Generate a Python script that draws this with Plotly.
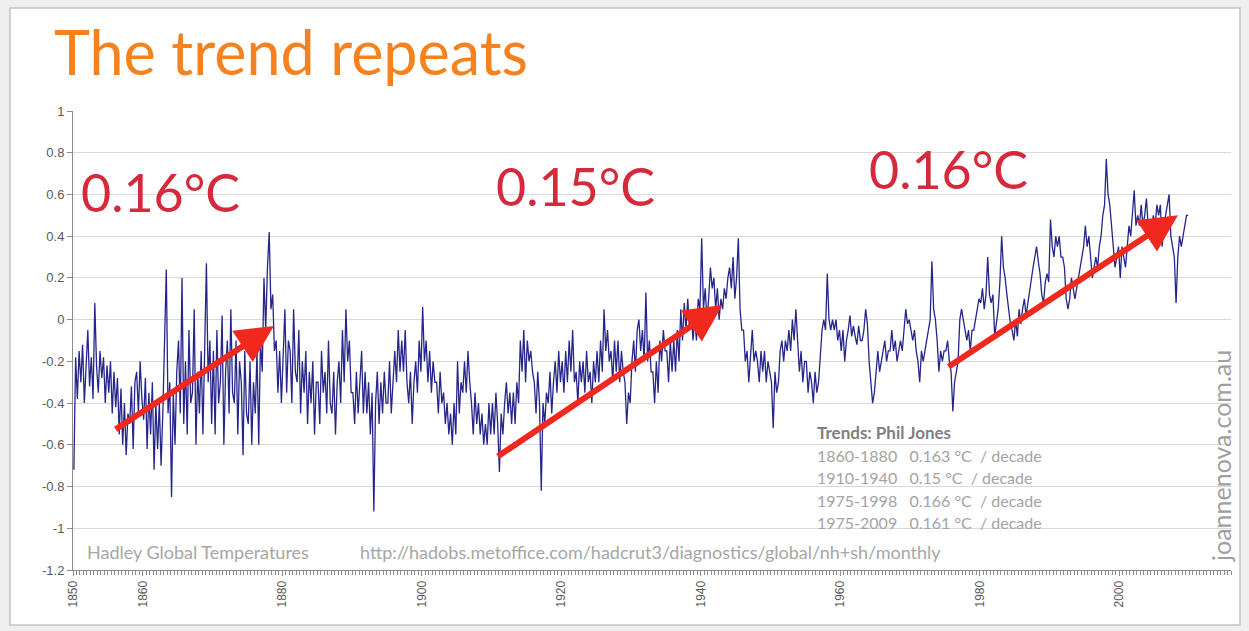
import plotly.graph_objects as go

# ---------------- data (quarterly readings) ----------------
t1850s = [-0.72, -0.18, -0.38, -0.15, -0.30, -0.12, -0.40, -0.20, -0.05, -0.32, -0.18, -0.38,
          0.08, -0.22, -0.35, -0.15, -0.28, -0.18, -0.40, -0.22, -0.35, -0.20, -0.45, -0.25,
          -0.42, -0.28, -0.55, -0.33, -0.60, -0.40, -0.65, -0.45, -0.50, -0.32, -0.62, -0.30,
          -0.25, -0.45, -0.20, -0.38]
t1860s = [-0.48, -0.28, -0.62, -0.35, -0.55, -0.30, -0.72, -0.40, -0.62, -0.40, -0.70, -0.45,
          -0.15, 0.24, -0.45, -0.30, -0.85, -0.35, -0.60, -0.25, -0.10, -0.45, 0.20, -0.50,
          -0.20, -0.55, -0.05, -0.40, -0.35, 0.05, -0.60, -0.25, -0.45, -0.15, -0.55, -0.20,
          0.27, -0.30, -0.10, -0.50]
t1870s = [-0.15, -0.55, -0.05, -0.40, -0.30, 0.02, -0.60, -0.25, -0.10, -0.45, 0.05, -0.35,
          -0.40, -0.10, -0.55, -0.20, -0.30, -0.65, -0.15, -0.45, -0.50, -0.20, -0.60, -0.30,
          -0.45, -0.15, -0.60, -0.10, -0.25, 0.20, -0.05, 0.25, 0.42, 0.05, 0.12, -0.15,
          -0.10, -0.35, -0.15, -0.40]
t1880s = [-0.20, 0.05, -0.35, -0.10, -0.15, -0.40, 0.05, -0.25, -0.30, -0.05, -0.45, -0.20,
          -0.35, -0.15, -0.50, -0.25, -0.40, -0.20, -0.55, -0.30, -0.30, -0.50, -0.15, -0.35,
          -0.25, -0.45, -0.10, -0.40, -0.45, -0.25, -0.55, -0.30, -0.20, -0.40, -0.05, -0.30,
          0.05, -0.20, -0.10, -0.35]
t1890s = [-0.35, -0.50, -0.25, -0.45, -0.30, -0.15, -0.45, -0.25, -0.45, -0.30, -0.55, -0.35,
          -0.92, -0.40, -0.25, -0.50, -0.30, -0.45, -0.25, -0.40, -0.40, -0.20, -0.45, -0.30,
          -0.15, -0.30, -0.05, -0.25, -0.10, -0.25, -0.05, -0.30, -0.40, -0.25, -0.50, -0.30,
          -0.20, -0.35, -0.10, -0.25]
t1900s = [0.06, -0.20, -0.10, -0.30, -0.15, -0.35, -0.20, -0.30, -0.30, -0.45, -0.25, -0.40,
          -0.35, -0.50, -0.40, -0.55, -0.45, -0.60, -0.40, -0.55, -0.20, -0.45, -0.30, -0.35,
          -0.20, -0.35, -0.15, -0.30, -0.40, -0.55, -0.35, -0.50, -0.40, -0.55, -0.45, -0.60,
          -0.50, -0.60, -0.40, -0.55]
t1910s = [-0.40, -0.55, -0.35, -0.50, -0.73, -0.45, -0.55, -0.40, -0.30, -0.45, -0.35, -0.50,
          -0.35, -0.50, -0.30, -0.40, -0.10, -0.25, -0.05, -0.30, -0.10, -0.20, -0.15, -0.25,
          -0.30, -0.45, -0.25, -0.40, -0.82, -0.40, -0.50, -0.35, -0.40, -0.25, -0.45, -0.30,
          -0.20, -0.35, -0.15, -0.30]
t1920s = [-0.20, -0.35, -0.15, -0.30, -0.10, -0.25, -0.05, -0.30, -0.25, -0.40, -0.20, -0.30,
          -0.20, -0.35, -0.15, -0.30, -0.25, -0.40, -0.20, -0.30, -0.15, -0.30, -0.10, -0.25,
          0.05, -0.15, -0.05, -0.20, -0.15, -0.30, -0.10, -0.25, -0.10, -0.30, -0.15, -0.25,
          -0.30, -0.50, -0.35, -0.40]
t1930s = [-0.20, -0.10, -0.25, -0.05, 0.00, -0.15, -0.05, -0.20, 0.13, -0.20, -0.10, -0.25,
          -0.25, -0.40, -0.20, -0.35, -0.10, -0.20, -0.05, -0.15, -0.15, -0.30, -0.10, -0.25,
          -0.10, -0.25, -0.05, -0.20, 0.05, -0.10, 0.08, -0.05, 0.10, -0.05, 0.05, -0.10,
          0.00, -0.10, 0.10, 0.05]
t1940s = [0.39, 0.05, 0.15, 0.00, 0.10, 0.25, 0.15, 0.20, 0.05, 0.15, 0.00, 0.10,
          0.05, 0.15, 0.10, 0.20, 0.25, 0.15, 0.30, 0.10, 0.20, 0.39, 0.05, -0.05,
          -0.05, -0.20, -0.15, -0.30, -0.15, -0.05, -0.20, -0.15, -0.20, -0.30, -0.15, -0.25,
          -0.15, -0.30, -0.20, -0.25]
t1950s = [-0.30, -0.52, -0.25, -0.35, -0.30, -0.15, -0.10, -0.20, -0.10, -0.15, -0.05, -0.15,
          0.00, -0.10, 0.05, -0.10, -0.25, -0.15, -0.30, -0.20, -0.20, -0.35, -0.25, -0.30,
          -0.40, -0.25, -0.35, -0.30, -0.15, -0.05, 0.00, -0.05, 0.22, 0.00, -0.05, 0.00,
          -0.05, 0.00, -0.10, -0.05]
t1960s = [-0.15, -0.05, -0.20, -0.10, -0.05, 0.02, -0.08, -0.03, -0.08, -0.12, -0.03, -0.10,
          -0.10, -0.05, 0.05, -0.02, -0.20, -0.30, -0.40, -0.35, -0.25, -0.15, -0.25, -0.20,
          -0.15, -0.10, -0.20, -0.15, -0.15, -0.05, -0.15, -0.10, -0.20, -0.15, -0.10, -0.15,
          -0.05, 0.05, -0.02, 0.00]
t1970s = [-0.05, -0.10, -0.05, -0.15, -0.20, -0.30, -0.15, -0.20, -0.15, -0.10, -0.05, 0.00,
          0.28, 0.05, 0.00, -0.10, -0.25, -0.15, -0.20, -0.15, -0.15, -0.10, -0.20, -0.25,
          -0.44, -0.30, -0.25, -0.20, 0.00, 0.05, 0.00, -0.05, -0.10, -0.05, -0.15, -0.05,
          -0.05, 0.00, 0.05, 0.10]
t1980s = [0.08, 0.15, 0.05, 0.12, 0.30, 0.12, 0.08, 0.12, -0.08, 0.00, 0.05, 0.18,
          0.40, 0.25, 0.20, 0.12, 0.05, -0.02, -0.05, -0.10, 0.00, -0.08, 0.05, -0.02,
          0.05, 0.10, 0.02, 0.08, 0.15, 0.20, 0.25, 0.30, 0.35, 0.28, 0.22, 0.12,
          0.08, 0.18, 0.22, 0.18]
t1990s = [0.48, 0.35, 0.30, 0.40, 0.35, 0.40, 0.30, 0.30, 0.25, 0.10, 0.05, 0.10,
          0.20, 0.15, 0.10, 0.15, 0.20, 0.25, 0.30, 0.35, 0.45, 0.35, 0.40, 0.30,
          0.20, 0.25, 0.30, 0.25, 0.35, 0.40, 0.50, 0.55, 0.77, 0.60, 0.55, 0.45,
          0.35, 0.25, 0.30, 0.35]
t2000s = [0.20, 0.35, 0.30, 0.25, 0.35, 0.45, 0.40, 0.50, 0.62, 0.45, 0.50, 0.45,
          0.55, 0.45, 0.50, 0.58, 0.45, 0.40, 0.45, 0.50, 0.45, 0.55, 0.50, 0.55,
          0.35, 0.45, 0.50, 0.55, 0.60, 0.40, 0.35, 0.30, 0.08, 0.30, 0.40, 0.35,
          0.40, 0.45, 0.50, 0.50]

first_year = 1850
tick_years = [1850, 1860, 1880, 1900, 1920, 1940, 1960, 1980, 2000]
y_ticks = [-1.2, -1, -0.8, -0.6, -0.4, -0.2, 0, 0.2, 0.4, 0.6, 0.8, 1]
y_ticktext = ["-1.2", "-1", "-0.8", "-0.6", "-0.4", "-0.2", "0", "0.2", "0.4", "0.6", "0.8", "1"]

trend_labels = ["0.16°C", "0.15°C", "0.16°C"]
trend_label_pos = [(1862.5, 0.61), (1922.0, 0.64), (1975.5, 0.72)]
arrow_start_x = [1855.9, 1910.7, 1975.3]
arrow_start_y = [-0.53, -0.66, -0.23]
arrow_end_x = [1878.8, 1943.1, 2008.4]
arrow_end_y = [-0.03, 0.07, 0.50]

trend_rows = ["1860-1880   0.163 °C  / decade",
              "1910-1940   0.15 °C  / decade",
              "1975-1998   0.166 °C  / decade",
              "1975-2009   0.161 °C  / decade"]

series = (t1850s + t1860s + t1870s + t1880s + t1890s + t1900s + t1910s + t1920s +
          t1930s + t1940s + t1950s + t1960s + t1970s + t1980s + t1990s + t2000s)
xs = [first_year + i * 0.25 + 0.125 for i in range(len(series))]

# ---------------- layout geometry ----------------
W, H = 1249, 631
L, R, T, B = 73, 18, 111, 61
PW, PH = W - L - R, H - T - B


def px(p):
    return (p - L) / PW


def py(p):
    return 1 - (p - T) / PH


fig = go.Figure()
fig.add_trace(go.Scatter(x=xs, y=series, mode="lines",
                         line=dict(color="#25258a", width=1.3), hoverinfo="skip",
                         showlegend=False))

axis_grey = "#8c8c8c"
fig.update_layout(
    width=W, height=H,
    margin=dict(l=L, r=R, t=T, b=B),
    paper_bgcolor="#efefef",
    plot_bgcolor="white",
    font=dict(family="Liberation Sans, Arial, sans-serif", color="#595959"),
    xaxis=dict(range=[1850, 2016], tickvals=tick_years, ticktext=[str(v) for v in tick_years],
               tickangle=-90, tickfont=dict(size=12, color="#595959"),
               showgrid=False, zeroline=False, showline=True, linecolor=axis_grey,
               ticks="outside", ticklen=5, tickcolor=axis_grey,
               minor=dict(dtick=0.5, tick0=1850, ticks="outside", ticklen=4,
                          tickcolor=axis_grey, showgrid=False)),
    yaxis=dict(range=[-1.2, 1], tickvals=y_ticks, ticktext=y_ticktext,
               tickfont=dict(size=13, color="#595959"),
               showgrid=True, gridcolor="#d9d9d9", gridwidth=1, zeroline=False,
               showline=True, linecolor=axis_grey, ticks="outside", ticklen=5,
               tickcolor=axis_grey),
)

# outer white card
fig.add_shape(type="rect", xref="paper", yref="paper",
              x0=px(10), x1=px(1240), y0=py(625), y1=py(8),
              fillcolor="white", line=dict(color="#c4c4c4", width=1.5), layer="below")

anns = []
# title
anns.append(dict(text="The trend repeats", xref="paper", yref="paper", x=px(52), y=py(51),
                 xanchor="left", yanchor="middle", showarrow=False,
                 font=dict(family="Lato", size=61, color="#f5821f")))

# trend labels
for txt, (lx, ly) in zip(trend_labels, trend_label_pos):
    anns.append(dict(text=txt, x=lx, y=ly, xref="x", yref="y", showarrow=False,
                     xanchor="center", yanchor="middle",
                     font=dict(family="Lato", size=52, color="#d42a3c")))

# arrows
for sx, sy, ex, ey in zip(arrow_start_x, arrow_start_y, arrow_end_x, arrow_end_y):
    anns.append(dict(text="", x=ex, y=ey, ax=sx, ay=sy, xref="x", yref="y",
                     axref="x", ayref="y", showarrow=True, arrowhead=2,
                     arrowsize=1.25, arrowwidth=6, arrowcolor="#f0281e"))

# trends box
anns.append(dict(text="<b>Trends: Phil Jones</b>", xref="paper", yref="paper",
                 x=px(815), y=py(432), xanchor="left", yanchor="middle", showarrow=False,
                 font=dict(family="Lato", size=17, color="#7f7f7f")))
for i, row in enumerate(trend_rows):
    anns.append(dict(text=row, xref="paper", yref="paper", x=px(815), y=py(455 + 22.5 * i),
                     xanchor="left", yanchor="middle", showarrow=False,
                     font=dict(family="Lato", size=16, color="#a3a3a3")))

# source notes
anns.append(dict(text="Hadley Global Temperatures", xref="paper", yref="paper",
                 x=px(85), y=py(552), xanchor="left", yanchor="middle", showarrow=False,
                 font=dict(family="Lato", size=18, color="#a6a6a6")))
anns.append(dict(text="http://hadobs.metoffice.com/hadcrut3/diagnostics/global/nh+sh/monthly",
                 xref="paper", yref="paper", x=px(358), y=py(552), xanchor="left",
                 yanchor="middle", showarrow=False,
                 font=dict(family="Lato", size=18, color="#a6a6a6")))

# watermark
anns.append(dict(text="joannenova.com.au", xref="paper", yref="paper", x=px(1221), y=py(456),
                 xanchor="center", yanchor="middle", textangle=-90, showarrow=False,
                 font=dict(family="Lato", size=25, color="#a0a0a0")))

fig.update_layout(annotations=anns)
fig.write_html("out.html", config={"displayModeBar": False},
               post_script="document.body.style.margin='0';")
